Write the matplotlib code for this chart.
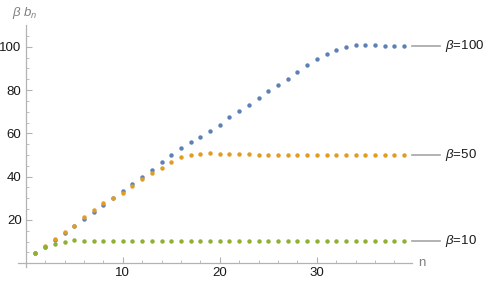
import matplotlib
matplotlib.use("Agg")
import matplotlib.pyplot as plt
import numpy as np

plt.rcParams["font.family"] = ["Liberation Sans", "DejaVu Sans"]
plt.rcParams["mathtext.fontset"] = "custom"
plt.rcParams["mathtext.it"] = "Liberation Sans:italic"
plt.rcParams["mathtext.rm"] = "Liberation Sans"

n = np.arange(1, 40)

b100 = [4.6, 7.7, 10.8, 14.0, 17.4, 20.5, 23.5, 26.8, 30.2, 33.4,
        36.8, 40.0, 43.1, 46.6, 49.9, 53.1, 55.9, 58.5, 61.1, 63.9,
        67.4, 70.5, 73.1, 76.2, 79.6, 82.4, 85.1, 88.5, 91.6, 94.2,
        96.7, 98.5, 99.8, 100.7, 101.0, 100.7, 100.5, 100.5, 100.2]
b50 = [4.6, 8.0, 11.2, 14.5, 17.4, 21.2, 24.6, 28.0, 30.2, 32.6,
       35.6, 38.8, 41.6, 44.2, 46.9, 49.0, 49.9, 50.5, 50.8, 50.5,
       50.4, 50.3, 50.3, 50.2, 50.2, 50.1, 50.1, 50.1, 50.1, 50.0,
       50.0, 50.0, 50.0, 50.0, 50.0, 50.0, 50.0, 50.0, 50.0]
b10 = [4.6, 7.3, 8.8, 10.0, 10.7, 10.3, 10.3, 10.3, 10.3, 10.3,
       10.3, 10.3, 10.3, 10.3, 10.3, 10.3, 10.3, 10.3, 10.3, 10.3,
       10.3, 10.3, 10.3, 10.3, 10.3, 10.3, 10.3, 10.3, 10.3, 10.3,
       10.3, 10.3, 10.3, 10.3, 10.3, 10.3, 10.3, 10.3, 10.3]
labels = ["100", "50", "10"]
colors = ["#5E81B5", "#E19C24", "#8FB032"]

fig = plt.figure(figsize=(4.98, 2.85), dpi=100)
ax = fig.add_axes([0.0361, 0.0632, 0.791, 0.849])

for ys, lab, c in zip([b100, b50, b10], labels, colors):
    ax.plot(n, ys, "o", color=c, markersize=3.2, markeredgewidth=0, clip_on=False)
    ax.plot([39.8, 42.7], [ys[-1], ys[-1]], color="#A6A6A6", lw=1.2, clip_on=False)
    ax.text(43.2, ys[-1], r"$\beta$=" + lab, fontsize=9.5, va="center", ha="left",
            color="#1a1a1a")

ax.set_xlim(-0.8, 39.8)
ax.set_ylim(-1.7, 110)

for s in ["top", "right"]:
    ax.spines[s].set_visible(False)
ax.spines["left"].set_position(("data", 0))
ax.spines["bottom"].set_position(("data", 0))
for s in ["left", "bottom"]:
    ax.spines[s].set_color("#B3B3B3")
    ax.spines[s].set_linewidth(0.9)

ax.set_xticks([10, 20, 30])
ax.set_xticks(np.arange(2, 40, 2), minor=True)
ax.set_yticks([20, 40, 60, 80, 100])
ax.set_yticks(np.arange(5, 110, 5), minor=True)
ax.tick_params(which="both", direction="in", color="#B3B3B3", labelsize=9.5,
               labelcolor="#1a1a1a")
ax.tick_params(which="major", length=4, width=0.8, pad=3)
ax.tick_params(which="minor", length=2.5, width=0.6)
ax.set_facecolor("none")

fig.text(0.024, 0.955, r"$\beta\ b_n$", fontsize=9.5, color="#808080", va="center")
ax.text(40.4, 0, "n", fontsize=9.5, color="#808080", va="center", ha="left")

fig.savefig("out.png", dpi=100)
